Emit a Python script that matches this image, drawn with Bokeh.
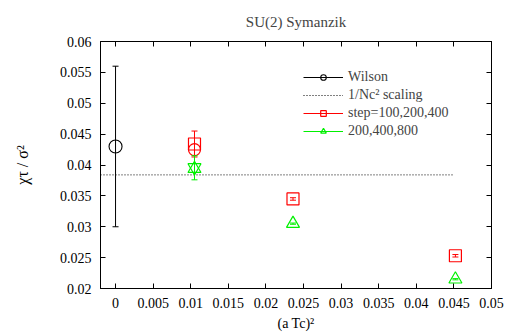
from bokeh.plotting import figure
from bokeh.models import Range1d, FixedTicker, LinearAxis, Legend, LegendItem
from bokeh.embed import file_html
from bokeh.resources import INLINE

# ---------------- data ----------------
wilson_x = [0.0]
wilson_y = [0.043]
wilson_lo = [0.030]
wilson_hi = [0.056]

scaling_x = [-0.002, 0.045]
scaling_y = [0.0384, 0.0384]

step_x = [0.0105, 0.0236, 0.0452]
step_y = [0.0434, 0.0345, 0.0253]
step_lo = [0.0413, 0.0343, 0.0251]
step_hi = [0.0455, 0.0347, 0.0255]

step_circle_x = [0.0105]
step_circle_y = [0.0425]

green_x = [0.0105, 0.0236, 0.0452]
green_y = [0.0394, 0.0305, 0.0215]
green_lo = [0.0376, 0.0304, 0.0214]
green_hi = [0.0415, 0.0306, 0.0216]

green_inv_x = [0.0105]
green_inv_y = [0.0396]

x_ticks = [0.0, 0.005, 0.01, 0.015, 0.02, 0.025, 0.03, 0.035, 0.04, 0.045, 0.05]
x_tick_labels = ["0", "0.005", "0.01", "0.015", "0.02", "0.025", "0.03", "0.035", "0.04", "0.045", "0.05"]
y_ticks = [0.02, 0.025, 0.03, 0.035, 0.04, 0.045, 0.05, 0.055, 0.06]
y_tick_labels = ["0.02", "0.025", "0.03", "0.035", "0.04", "0.045", "0.05", "0.055", "0.06"]

legend_labels = ["Wilson", "1/Nc\u00b2 scaling", "step=100,200,400", "200,400,800"]
title_text = "SU(2) Symanzik"
x_label = "(a Tc)\u00b2"
y_label = "\u03c7\u03c4 / \u03c3\u00b2"

FONT = "Liberation Serif"
RED = "#ff0000"
GREEN = "#00f000"

p = figure(width=509, height=336, output_backend="svg", toolbar_location=None,
           x_range=Range1d(-0.002, 0.05), y_range=Range1d(0.02, 0.06),
           min_border_left=100, min_border_right=18, min_border_top=41, min_border_bottom=48)
p.background_fill_color = "white"
p.border_fill_color = "white"
p.outline_line_color = "black"
p.outline_line_width = 1
p.xgrid.visible = False
p.ygrid.visible = False

p.title.text = title_text
p.title.text_font = FONT
p.title.text_font_size = "15px"
p.title.text_font_style = "normal"
p.title.align = "center"
p.title.offset = 0
p.title.standoff = 23

x_over = {t: l for t, l in zip(x_ticks, x_tick_labels)}
y_over = {t: l for t, l in zip(y_ticks, y_tick_labels)}

for ax, ticks, over in ((p.xaxis[0], x_ticks, x_over), (p.yaxis[0], y_ticks, y_over)):
    ax.ticker = FixedTicker(ticks=ticks)
    ax.major_label_overrides = over
    ax.major_tick_in = 5
    ax.major_tick_out = 0
    ax.minor_tick_line_color = None
    ax.major_label_text_font = FONT
    ax.major_label_text_font_size = "14px"
    ax.major_label_text_color = "black"
    ax.axis_line_color = "black"
    ax.major_tick_line_color = "black"
    ax.major_label_standoff = 9
    ax.axis_label_text_font = FONT
    ax.axis_label_text_font_style = "normal"
    ax.axis_label_text_color = "black"

p.xaxis[0].axis_label = x_label
p.xaxis[0].axis_label_text_font_size = "14px"
p.xaxis[0].axis_label_standoff = 5
p.yaxis[0].axis_label = y_label
p.yaxis[0].axis_label_text_font_size = "16px"
p.yaxis[0].axis_label_standoff = 26

# mirror ticks (no labels)
for side, ticks in (("above", x_ticks), ("right", y_ticks)):
    a = LinearAxis(ticker=FixedTicker(ticks=ticks), major_tick_in=5, major_tick_out=0,
                   minor_tick_line_color=None,
                   major_label_overrides={t: "" for t in ticks},
                   major_label_standoff=0, axis_line_color="black", major_tick_line_color="black")
    p.add_layout(a, side)

# 1/Nc^2 scaling line
r_scal = p.line(scaling_x, scaling_y, line_color="black", line_dash="1 2", line_width=1)

# Wilson
r_w_err = p.segment(x0=wilson_x, y0=wilson_lo, x1=wilson_x, y1=wilson_hi, line_color="black", line_width=1)
p.scatter(wilson_x + wilson_x, wilson_lo + wilson_hi, marker="dash", size=6, line_color="black")
r_w = p.scatter(wilson_x, wilson_y, marker="circle", size=13, fill_color=None, line_color="black", line_width=1.1)

# step series (red)
r_s_err = p.segment(x0=step_x, y0=step_lo, x1=step_x, y1=step_hi, line_color=RED, line_width=1)
p.scatter(step_x + step_x, step_lo + step_hi, marker="dash", size=6, line_color=RED)
r_s = p.scatter(step_x, step_y, marker="square", size=12, fill_color=None, line_color=RED, line_width=1.2)
p.scatter(step_circle_x, step_circle_y, marker="circle", size=12, fill_color=None, line_color=RED, line_width=1.2)

# 200,400,800 series (green)
r_g_err = p.segment(x0=green_x, y0=green_lo, x1=green_x, y1=green_hi, line_color=GREEN, line_width=1)
p.scatter(green_x + green_x, green_lo + green_hi, marker="dash", size=6, line_color=GREEN)
r_g = p.scatter(green_x, green_y, marker="triangle", size=13, fill_color=None, line_color=GREEN, line_width=1.2)
p.scatter(green_inv_x, green_inv_y, marker="inverted_triangle", size=13, fill_color=None, line_color=GREEN, line_width=1.2)

legend = Legend(items=[
    LegendItem(label=legend_labels[0], renderers=[r_w_err, r_w]),
    LegendItem(label=legend_labels[1], renderers=[r_scal]),
    LegendItem(label=legend_labels[2], renderers=[r_s_err, r_s]),
    LegendItem(label=legend_labels[3], renderers=[r_g_err, r_g]),
], location=(203, 148), label_text_font=FONT, label_text_font_size="14px",
    label_height=18, glyph_height=14, glyph_width=40, spacing=0, padding=0, margin=0,
    border_line_color=None, background_fill_alpha=0)
p.add_layout(legend, "center")

open("out.html", "w").write(file_html(p, INLINE))
